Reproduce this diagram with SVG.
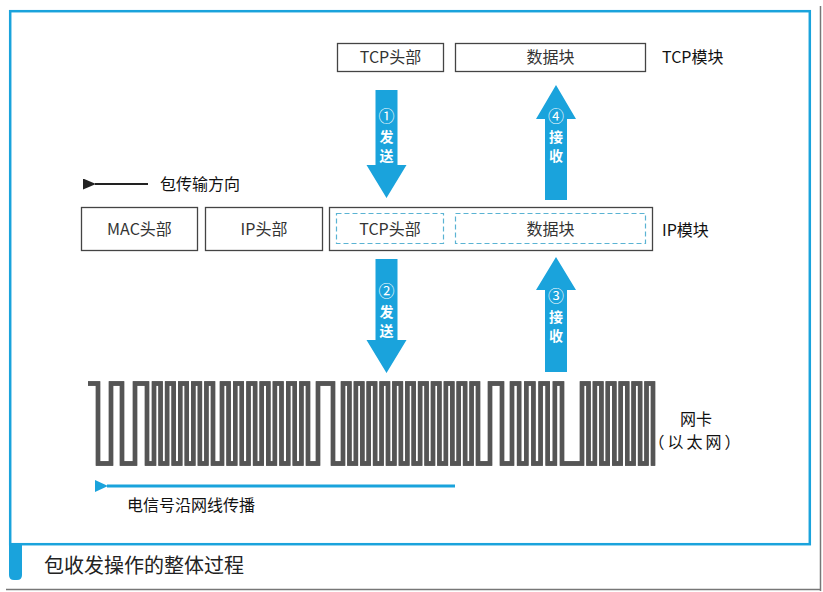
<svg xmlns="http://www.w3.org/2000/svg" width="823" height="592" viewBox="0 0 823 592">
<style>
.box{fill:#fff;stroke:#444;stroke-width:1.3}
.dash{fill:none;stroke:#5ab3d3;stroke-width:1.2;stroke-dasharray:5 3}
.lbl{font-family:"Noto Sans CJK SC","Noto Sans",sans-serif;font-size:16px;fill:#333}
.mod{font-family:"Noto Sans CJK SC","Noto Sans",sans-serif;font-size:16px;fill:#111}
.arr{fill:#1aa3dc}
.at{font-family:"Noto Sans CJK SC",sans-serif;font-size:14px;font-weight:bold;fill:#fff;text-anchor:middle}
.num{font-family:"Noto Sans CJK SC",sans-serif;font-size:16px;fill:#fff;text-anchor:middle}
.c{text-anchor:middle}
</style>
<defs>
<marker id="blk" viewBox="0 0 13 11" refX="1" refY="5.5" markerWidth="13" markerHeight="11" markerUnits="userSpaceOnUse" orient="auto-start-reverse">
<path d="M13 0 L0 5.5 L13 11 Z" fill="#222"/>
</marker>
<marker id="blu" viewBox="0 0 13 12" refX="1" refY="6" markerWidth="13" markerHeight="12" markerUnits="userSpaceOnUse" orient="auto-start-reverse">
<path d="M13 0 L0 6 L13 12 Z" fill="#1aa3dc"/>
</marker>
</defs>
<rect width="823" height="592" fill="#fff"/>
<g id="frame">
<line x1="820.5" y1="6" x2="820.5" y2="591" stroke="#777" stroke-width="1.5"/>
<line x1="6" y1="589.5" x2="821" y2="589.5" stroke="#777" stroke-width="1.5"/>
<rect x="10.2" y="11.2" width="799.6" height="533" fill="none" stroke="#1aa3dc" stroke-width="2.5"/>
<path d="M9 544 H22 V575 Q22 580 17 580 H14 Q9 580 9 575 Z" fill="#1aa3dc"/>
<text x="44" y="573" font-family="'Noto Sans CJK SC',sans-serif" font-size="20" fill="#222">包收发操作的整体过程</text>
</g>
<g id="tcp-module">
<rect class="box" x="337.5" y="43.5" width="106" height="28"/>
<text class="lbl c" x="390.5" y="63">TCP头部</text>
<rect class="box" x="455.5" y="43.5" width="190" height="28"/>
<text class="lbl c" x="550.5" y="63">数据块</text>
<text class="mod" x="662" y="63">TCP模块</text>
</g>
<g id="ip-module">
<rect class="box" x="81.5" y="207.5" width="116" height="43"/>
<text class="lbl c" x="139.5" y="235">MAC头部</text>
<rect class="box" x="205.5" y="207.5" width="117" height="43"/>
<text class="lbl c" x="264" y="235">IP头部</text>
<rect class="box" x="329.5" y="207.5" width="323" height="43"/>
<rect class="dash" x="336.5" y="213.5" width="107" height="30"/>
<text class="lbl c" x="390" y="235">TCP头部</text>
<rect class="dash" x="455.5" y="213.5" width="190" height="30"/>
<text class="lbl c" x="550.5" y="235">数据块</text>
<text class="mod" x="662" y="236">IP模块</text>
</g>
<g id="direction">
<line x1="148" y1="184" x2="95" y2="184" stroke="#222" stroke-width="2" marker-end="url(#blk)"/>
<text class="mod" x="160" y="190" font-size="16.5">包传输方向</text>
</g>
<g id="nic">
<path id="wave" fill="none" stroke="#555" stroke-width="4.4" d="M88 383.5 H98 V463.5 H111 V383.5 H122 V463.5 H135 V383.5 H147 V463.5 H154 V383.5 H160.6 V463.5 H167.1 V383.5 H173.7 V463.5 H180.2 V383.5 H186.8 V463.5 H193.3 V383.5 H199.9 V463.5 H206.4 V383.5 H213 V463.5 H222 V383.5 H228.6 V463.5 H235.2 V383.5 H241.8 V463.5 H248.5 V383.5 H255.1 V463.5 H261.7 V383.5 H268.3 V463.5 H274.9 V383.5 H281.5 V463.5 H288.2 V383.5 H294.8 V463.5 H301.4 V383.5 H308 V463.5 H318 V383.5 H333 V463.5 H343 V383.5 H349.4 V463.5 H355.9 V383.5 H362.3 V463.5 H368.7 V383.5 H375.1 V463.5 H381.6 V383.5 H388 V463.5 H394.4 V383.5 H400.9 V463.5 H407.3 V383.5 H413.7 V463.5 H420.1 V383.5 H426.6 V463.5 H433 V383.5 H439.4 V463.5 H445.9 V383.5 H452.3 V463.5 H458.7 V383.5 H465.1 V463.5 H471.6 V383.5 H478 V463.5 H490 V383.5 H502 V463.5 H512 V383.5 H519.1 V463.5 H526.3 V383.5 H533.4 V463.5 H540.6 V383.5 H547.7 V463.5 H554.9 V383.5 H562 V463.5 H582 V383.5 H588.5 V463.5 H594.9 V383.5 H601.4 V463.5 H607.8 V383.5 H614.3 V463.5 H620.7 V383.5 H627.2 V463.5 H633.6 V383.5 H640.1 V463.5 H646.5 V383.5 H653 V465.7"/>
<use href="#wave" stroke="#fff" stroke-width="1.4"/>
<text class="mod c" x="696" y="425" font-size="15">网卡</text>
<text class="mod c" x="696" y="448" font-size="15" letter-spacing="3">（以太网）</text>
</g>
<g id="signal">
<line x1="455" y1="486" x2="107" y2="486" stroke="#1aa3dc" stroke-width="3" marker-end="url(#blu)"/>
<text class="mod" x="127" y="511" font-size="16.5">电信号沿网线传播</text>
</g>
<g id="connectors">
<g id="send1">
<polygon class="arr" points="375.5,90 397.5,90 397.5,165 406.5,165 386.5,198 366.5,165 375.5,165"/>
<text class="num" x="386.5" y="122">①</text>
<text class="at" x="386.5" y="142">发</text>
<text class="at" x="386.5" y="161">送</text>
</g>
<g id="send2">
<polygon class="arr" points="375.5,259 397.5,259 397.5,340 406.5,340 386.5,373 366.5,340 375.5,340"/>
<text class="num" x="386.5" y="297">②</text>
<text class="at" x="386.5" y="317">发</text>
<text class="at" x="386.5" y="336">送</text>
</g>
<g id="recv3">
<polygon class="arr" points="556,257 576,290 567,290 567,372 545,372 545,290 536,290"/>
<text class="num" x="556" y="302">③</text>
<text class="at" x="556" y="322">接</text>
<text class="at" x="556" y="341">收</text>
</g>
<g id="recv4">
<polygon class="arr" points="556,85 576,119 567,119 567,200 545,200 545,119 536,119"/>
<text class="num" x="556" y="122">④</text>
<text class="at" x="556" y="142">接</text>
<text class="at" x="556" y="161">收</text>
</g>
</g>
</svg>
